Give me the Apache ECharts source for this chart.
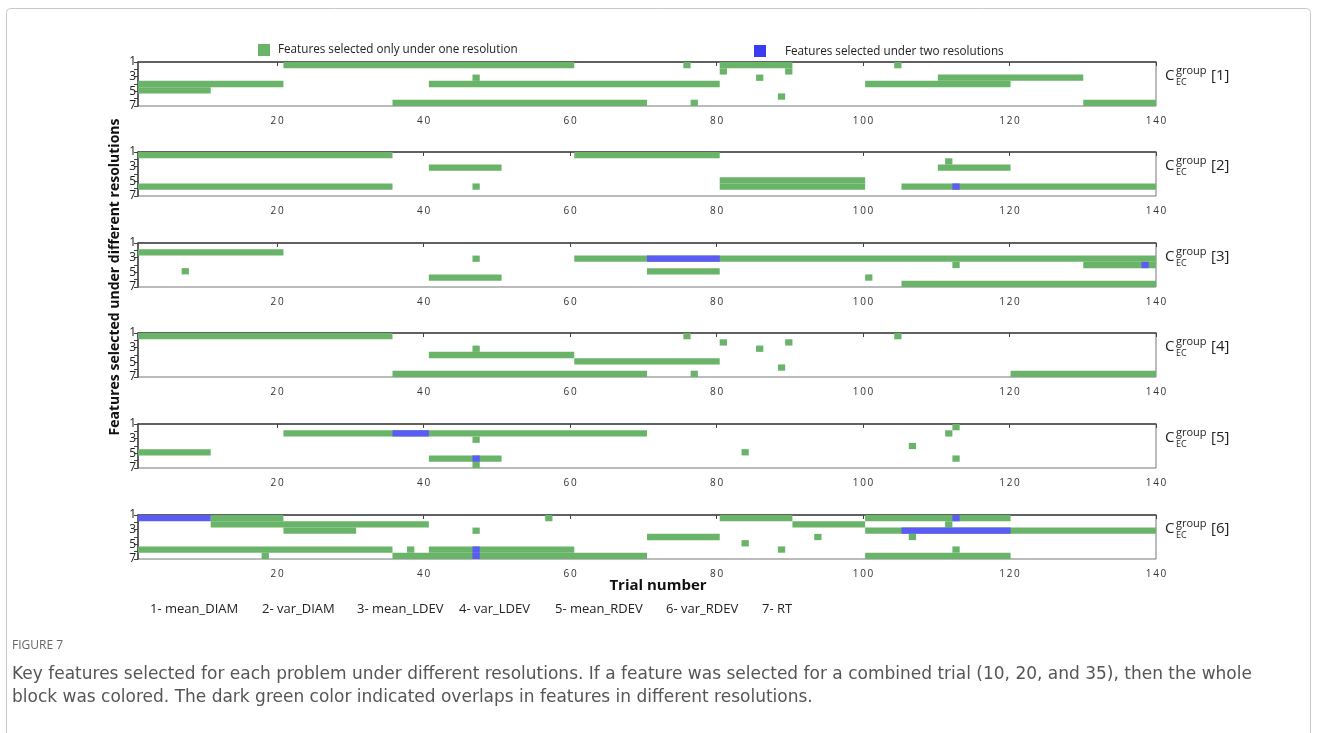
<!DOCTYPE html>
<html>
<head>
<meta charset="utf-8">
<script src="https://cdn.jsdelivr.net/npm/echarts@6/dist/echarts.min.js"></script>
<style>
  html, body { margin: 0; padding: 0; background: #fff; }
  #chart { width: 1319px; height: 733px; }
</style>
</head>
<body>
<div id="chart"></div>
<script>
// tick labels
const trialTicks = [20, 40, 60, 80, 100, 120, 140];
const featureNames = ['1- mean_DIAM', '2- var_DIAM', '3- mean_LDEV', '4- var_LDEV', '5- mean_RDEV', '6- var_RDEV', '7- RT'];
const panelNames = ['[1]', '[2]', '[3]', '[4]', '[5]', '[6]'];

// [feature row, first trial, last trial]
const group1One = [[1, 21, 60], [1, 76, 76], [1, 81, 90], [1, 105, 105], [2, 81, 81], [2, 90, 90],
  [3, 47, 47], [3, 86, 86], [3, 111, 130], [4, 1, 20], [4, 41, 80], [4, 101, 120], [5, 1, 10],
  [6, 89, 89], [7, 36, 70], [7, 77, 77], [7, 131, 140]];
const group1Two = [];

const group2One = [[1, 1, 35], [1, 61, 80], [2, 112, 112], [3, 41, 50], [3, 111, 120], [5, 81, 100],
  [6, 1, 35], [6, 47, 47], [6, 81, 100], [6, 106, 140]];
const group2Two = [[6, 113, 113]];

const group3One = [[2, 1, 20], [3, 47, 47], [3, 61, 140], [4, 113, 113], [4, 131, 140], [5, 7, 7],
  [5, 71, 80], [6, 41, 50], [6, 101, 101], [7, 106, 140]];
const group3Two = [[3, 71, 80], [4, 139, 139]];

const group4One = [[1, 1, 35], [1, 76, 76], [1, 105, 105], [2, 81, 81], [2, 90, 90], [3, 47, 47],
  [3, 86, 86], [4, 41, 60], [5, 61, 80], [6, 89, 89], [7, 36, 70], [7, 77, 77], [7, 121, 140]];
const group4Two = [];

const group5One = [[1, 113, 113], [2, 21, 70], [2, 112, 112], [3, 47, 47], [4, 107, 107], [5, 1, 10],
  [5, 84, 84], [6, 41, 50], [6, 113, 113], [7, 47, 47]];
const group5Two = [[2, 36, 40], [6, 47, 47]];

const group6One = [[1, 11, 20], [1, 57, 57], [1, 81, 90], [1, 101, 120], [2, 11, 40], [2, 91, 100],
  [2, 112, 112], [3, 21, 30], [3, 47, 47], [3, 101, 140], [4, 71, 80], [4, 94, 94], [4, 107, 107],
  [5, 84, 84], [6, 1, 35], [6, 38, 38], [6, 41, 60], [6, 89, 89], [6, 113, 113], [7, 18, 18],
  [7, 36, 70], [7, 101, 120]];
const group6Two = [[1, 1, 10], [1, 113, 113], [3, 106, 120], [6, 47, 47], [7, 47, 47]];

const panelsOne = [group1One, group2One, group3One, group4One, group5One, group6One];
const panelsTwo = [group1Two, group2Two, group3Two, group4Two, group5Two, group6Two];

const GREEN = '#69b469';
const BLUE = '#5b5bf6';
const FONT = 'Open Sans';

const chart = echarts.init(document.getElementById('chart'));

const gridLeft = 138;
const gridRight = 163;
const gridH = 44;
const gridTops = [62, 152, 243, 333, 424, 515];

// one trial = one cell, one feature = one row
function cellRenderer(color) {
  return function (params, api) {
    const p0 = api.coord([api.value(1) - 1, api.value(0) - 1]);
    const p1 = api.coord([api.value(2), api.value(0)]);
    return {
      type: 'rect',
      shape: { x: p0[0], y: p0[1], width: p1[0] - p0[0], height: p1[1] - p0[1] },
      style: { fill: color }
    };
  };
}

const grid = [], xAxis = [], yAxis = [], series = [], graphic = [];

gridTops.forEach((top, k) => {
  grid.push({
    left: gridLeft, right: gridRight, top: top, height: gridH,
    show: true, borderColor: '#777', borderWidth: 1, backgroundColor: '#fff'
  });
  // visible axes
  xAxis.push({
    gridIndex: k, type: 'value', min: 1, max: 140,
    axisLine: { show: true, lineStyle: { color: '#444', width: 1.5 } },
    axisTick: { show: true, customValues: trialTicks, length: 4, lineStyle: { color: '#444' } },
    axisLabel: {
      customValues: trialTicks, margin: 10, fontSize: 10, color: '#333', fontFamily: FONT,
      formatter: v => String(v).split('').join('\u2009')
    },
    splitLine: { show: false }
  });
  yAxis.push({
    gridIndex: k, type: 'value', min: 1, max: 7, interval: 1, inverse: true,
    axisLine: { show: true, lineStyle: { color: '#444', width: 1.5 } },
    axisTick: { show: true, length: 4, lineStyle: { color: '#444' } },
    axisLabel: {
      margin: 2, fontSize: 12, color: '#222', fontFamily: FONT,
      formatter: v => (v % 2 === 1 ? String(v) : '')
    },
    splitLine: { show: false }
  });
  // cell axes
  xAxis.push({ gridIndex: k, type: 'value', min: 0, max: 140, show: false });
  yAxis.push({ gridIndex: k, type: 'value', min: 0, max: 7, inverse: true, show: false });

  series.push({
    type: 'custom', xAxisIndex: 2 * k + 1, yAxisIndex: 2 * k + 1,
    renderItem: cellRenderer(GREEN), data: panelsOne[k], silent: true, z: 1
  });
  series.push({
    type: 'custom', xAxisIndex: 2 * k + 1, yAxisIndex: 2 * k + 1,
    renderItem: cellRenderer(BLUE), data: panelsTwo[k], silent: true, z: 2
  });

  // C_EC^group[k]
  const cy = top + 14;
  graphic.push(
    { type: 'text', x: 1165, y: cy, style: { text: 'C', fontSize: 15, fontFamily: FONT, fill: '#222', verticalAlign: 'middle' } },
    { type: 'text', x: 1176, y: cy + 6, style: { text: 'EC', fontSize: 9, fontFamily: FONT, fill: '#222', verticalAlign: 'middle' } },
    { type: 'text', x: 1176, y: cy - 5, style: { text: 'group', fontSize: 11, fontFamily: FONT, fill: '#222', verticalAlign: 'middle' } },
    { type: 'text', x: 1211, y: cy, style: { text: panelNames[k], fontSize: 15, fontFamily: FONT, fill: '#222', verticalAlign: 'middle' } }
  );
});

// figure frame
graphic.push({
  type: 'rect', shape: { x: 6.5, y: 8.5, width: 1304, height: 760, r: 4 },
  style: { fill: 'none', stroke: '#c8c8c8', lineWidth: 1 }, z: -10
});

// top legend
graphic.push(
  { type: 'rect', shape: { x: 258, y: 44, width: 12, height: 12 }, style: { fill: GREEN } },
  { type: 'text', x: 278, y: 50, style: { text: 'Features selected only under one resolution', fontSize: 11.7, fontFamily: FONT, fill: '#222', verticalAlign: 'middle' } },
  { type: 'rect', shape: { x: 754, y: 45, width: 12, height: 12 }, style: { fill: '#3b3bf0' } },
  { type: 'text', x: 785, y: 52, style: { text: 'Features selected under two resolutions', fontSize: 11.7, fontFamily: FONT, fill: '#222', verticalAlign: 'middle' } }
);

// axis titles
graphic.push(
  { type: 'text', x: 115, y: 277, rotation: Math.PI / 2,
    style: { text: 'Features selected under different resolutions', fontSize: 14, fontWeight: 'bold', fontFamily: FONT, fill: '#111', align: 'center', verticalAlign: 'middle' } },
  { type: 'text', x: 658, y: 586,
    style: { text: 'Trial number', fontSize: 15, fontWeight: 'bold', fontFamily: FONT, fill: '#111', align: 'center', verticalAlign: 'middle' } }
);

// feature key
const featureX = [150, 262, 357, 459, 555, 666, 762];
featureNames.forEach((name, i) => {
  graphic.push({ type: 'text', x: featureX[i], y: 609,
    style: { text: name, fontSize: 13, fontFamily: FONT, fill: '#222', verticalAlign: 'middle' } });
});

// caption
graphic.push(
  { type: 'text', x: 12, y: 646, style: { text: 'FIGURE 7', fontSize: 12, fontFamily: FONT, fill: '#666', verticalAlign: 'middle' } },
  { type: 'text', x: 12, y: 675, style: { text: 'Key features selected for each problem under different resolutions. If a feature was selected for a combined trial (10, 20, and 35), then the whole', fontSize: 17, fontFamily: 'DejaVu Sans', fill: '#555', verticalAlign: 'middle' } },
  { type: 'text', x: 12, y: 698, style: { text: 'block was colored. The dark green color indicated overlaps in features in different resolutions.', fontSize: 17, fontFamily: 'DejaVu Sans', fill: '#555', verticalAlign: 'middle' } }
);

chart.setOption({
  animation: false,
  grid: grid,
  xAxis: xAxis,
  yAxis: yAxis,
  series: series,
  graphic: graphic
});
</script>
</body>
</html>
